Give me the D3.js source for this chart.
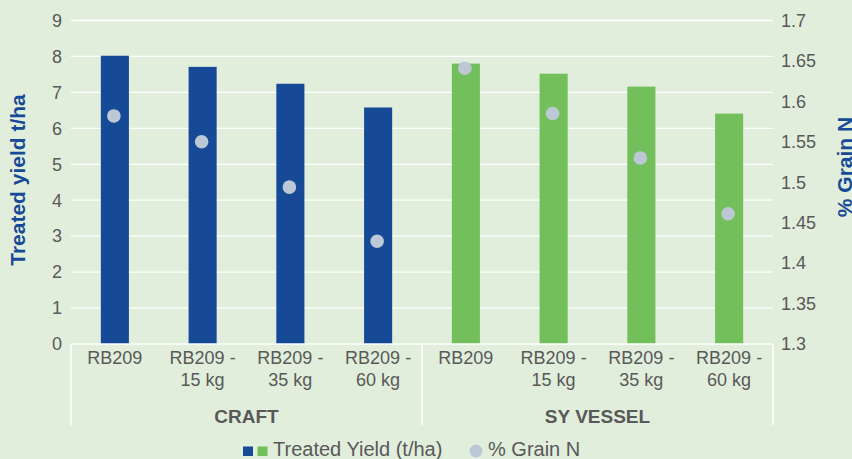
<!DOCTYPE html>
<html>
<head>
<meta charset="utf-8">
<script src="https://cdn.jsdelivr.net/npm/d3@7"></script>
<style>
  html, body { margin: 0; padding: 0; background: #e0eedb; }
  svg { display: block; font-family: "Liberation Sans", Arial, sans-serif; }
</style>
</head>
<body>
<svg id="chart" width="852" height="459"></svg>
<script>
'use strict';

var varieties = ['CRAFT', 'SY VESSEL'];
var treatments = [['RB209'], ['RB209 -', '15 kg'], ['RB209 -', '35 kg'], ['RB209 -', '60 kg']];
var yieldCraft = [8.02, 7.71, 7.24, 6.58];
var yieldVessel = [7.80, 7.52, 7.16, 6.41];
var grainNCraft = [1.582, 1.550, 1.494, 1.427];
var grainNVessel = [1.641, 1.585, 1.530, 1.461];
var yieldTicks = [0, 1, 2, 3, 4, 5, 6, 7, 8, 9];
var grainTicks = [1.3, 1.35, 1.4, 1.45, 1.5, 1.55, 1.6, 1.65, 1.7];
var varietyColors = ['#174a96', '#73bf5b'];

var margin = {top: 20.5, right: 79, bottom: 115, left: 71}
  , width = 852
  , height = 459
  , availableWidth = width - margin.left - margin.right
  , availableHeight = height - margin.top - margin.bottom
  , textColor = '#595959'
  , dotColor = '#bcc8d6'
;

// flatten groups into one row per bar
var rows = [];
varieties.forEach(function(v, vi) {
  var ys = vi === 0 ? yieldCraft : yieldVessel;
  var ns = vi === 0 ? grainNCraft : grainNVessel;
  treatments.forEach(function(t, ti) {
    rows.push({key: v + '|' + ti, variety: vi, label: t, yield: ys[ti], grainN: ns[ti]});
  });
});

var x = d3.scaleBand()
  .domain(rows.map(function(d) { return d.key; }))
  .range([0, availableWidth])
  .paddingInner(0.68)
  .paddingOuter(0.34);

var y = d3.scaleLinear().domain([0, 9]).range([availableHeight, 0]);
var y2 = d3.scaleLinear().domain([1.3, 1.7]).range([availableHeight, 0]);

var svg = d3.select('#chart');
var g = svg.append('g').attr('transform', 'translate(' + margin.left + ',' + margin.top + ')');

// gridlines
g.selectAll('line.grid').data(yieldTicks.slice(1))
  .enter().append('line')
  .attr('class', 'grid')
  .attr('x1', 0).attr('x2', availableWidth)
  .attr('y1', function(d) { return y(d); })
  .attr('y2', function(d) { return y(d); })
  .attr('stroke', '#ffffff')
  .attr('stroke-width', 1.3);

// left axis labels
g.selectAll('text.yl').data(yieldTicks)
  .enter().append('text')
  .attr('class', 'yl')
  .attr('x', -9)
  .attr('y', function(d) { return y(d); })
  .attr('dy', '0.35em')
  .attr('text-anchor', 'end')
  .attr('font-size', 18)
  .attr('fill', textColor)
  .text(function(d) { return d; });

// right axis labels
g.selectAll('text.yr').data(grainTicks)
  .enter().append('text')
  .attr('class', 'yr')
  .attr('x', availableWidth + 8)
  .attr('y', function(d) { return y2(d); })
  .attr('dy', '0.35em')
  .attr('font-size', 18)
  .attr('fill', textColor)
  .text(function(d) { return d; });

// bars
g.selectAll('rect.bar').data(rows)
  .enter().append('rect')
  .attr('class', 'bar')
  .attr('x', function(d) { return x(d.key); })
  .attr('y', function(d) { return y(d.yield); })
  .attr('width', x.bandwidth())
  .attr('height', function(d) { return availableHeight - y(d.yield); })
  .attr('fill', function(d) { return varietyColors[d.variety]; });

// grain N dots
g.selectAll('circle.dot').data(rows)
  .enter().append('circle')
  .attr('class', 'dot')
  .attr('cx', function(d) { return x(d.key) + x.bandwidth() / 2 - 1; })
  .attr('cy', function(d) { return y2(d.grainN); })
  .attr('r', 6.8)
  .attr('fill', dotColor);

// category axis: base line and group dividers
var groupW = availableWidth / varieties.length;
g.append('line')
  .attr('x1', 0).attr('x2', availableWidth)
  .attr('y1', availableHeight).attr('y2', availableHeight)
  .attr('stroke', '#ffffff').attr('stroke-width', 1.5);
g.selectAll('line.div').data(d3.range(varieties.length + 1))
  .enter().append('line')
  .attr('class', 'div')
  .attr('x1', function(i) { return i * groupW; })
  .attr('x2', function(i) { return i * groupW; })
  .attr('y1', availableHeight)
  .attr('y2', availableHeight + 81)
  .attr('stroke', '#ffffff').attr('stroke-width', 1.5);

var cat = g.selectAll('text.cat').data(rows)
  .enter().append('text')
  .attr('class', 'cat')
  .attr('text-anchor', 'middle')
  .attr('font-size', 18)
  .attr('fill', textColor);
cat.selectAll('tspan').data(function(d) {
    return d.label.map(function(s) { return {s: s, cx: x(d.key) + x.bandwidth() / 2}; });
  })
  .enter().append('tspan')
  .attr('x', function(d) { return d.cx; })
  .attr('y', function(d, i) { return availableHeight + 19.5 + i * 22; })
  .text(function(d) { return d.s; });

g.selectAll('text.grp').data(varieties)
  .enter().append('text')
  .attr('class', 'grp')
  .attr('x', function(d, i) { return (i + 0.5) * groupW; })
  .attr('y', availableHeight + 78.5)
  .attr('text-anchor', 'middle')
  .attr('font-size', 19)
  .attr('font-weight', 'bold')
  .attr('fill', textColor)
  .text(function(d) { return d; });

// axis titles
svg.append('text')
  .attr('transform', 'translate(25,180) rotate(-90)')
  .attr('text-anchor', 'middle')
  .attr('font-size', 21)
  .attr('font-weight', 'bold')
  .attr('fill', '#174a96')
  .text('Treated yield t/ha');
svg.append('text')
  .attr('transform', 'translate(852,167) rotate(-90)')
  .attr('text-anchor', 'middle')
  .attr('font-size', 21)
  .attr('font-weight', 'bold')
  .attr('fill', '#174a96')
  .text('% Grain N');

// legend
var leg = svg.append('g').attr('transform', 'translate(0,446.5)');
leg.selectAll('rect').data(varietyColors)
  .enter().append('rect')
  .attr('x', function(d, i) { return 243 + i * 14.5; })
  .attr('y', 0)
  .attr('width', 10).attr('height', 9.5)
  .attr('fill', function(d) { return d; });
leg.append('text')
  .attr('x', 273).attr('y', 9.3)
  .attr('font-size', 20)
  .attr('fill', textColor)
  .text('Treated Yield (t/ha)');
leg.append('circle')
  .attr('cx', 476).attr('cy', 4.5).attr('r', 6.5)
  .attr('fill', dotColor);
leg.append('text')
  .attr('x', 488).attr('y', 9.3)
  .attr('font-size', 20)
  .attr('fill', textColor)
  .text('% Grain N');
</script>
</body>
</html>
